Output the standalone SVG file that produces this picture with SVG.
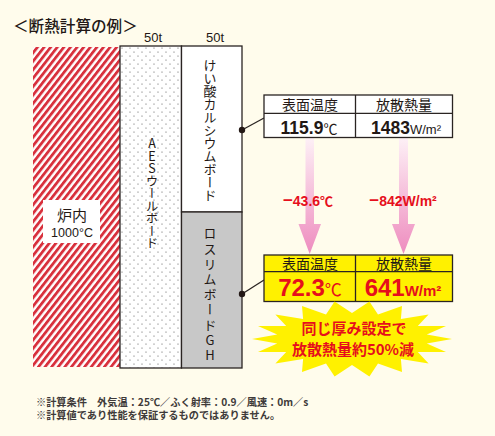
<svg xmlns="http://www.w3.org/2000/svg" width="495" height="436" viewBox="0 0 495 436">
<defs>
<pattern id="hatch" width="5.2" height="6" patternUnits="userSpaceOnUse" patternTransform="rotate(38)">
<rect width="5.2" height="6" fill="#ffffff"/>
<rect width="2.8" height="6" fill="#d8303c"/>
</pattern>
<pattern id="dots" width="8" height="8" patternUnits="userSpaceOnUse" x="120" y="46">
<rect width="8" height="8" fill="#ffffff"/>
<circle cx="2" cy="2" r="0.6" fill="#555"/>
<circle cx="6" cy="6" r="0.6" fill="#555"/>
</pattern>
<linearGradient id="pinkArrow" gradientUnits="userSpaceOnUse" x1="0" y1="138" x2="0" y2="253">
<stop offset="0" stop-color="#fdf0f6"/>
<stop offset="1" stop-color="#ee8dbf"/>
</linearGradient>
<style>
.jp{font-family:"Noto Sans CJK JP","Noto Sans",sans-serif;}
.num{font-family:"Liberation Sans","Noto Sans CJK JP",sans-serif;}
.ln{stroke:#2a2422;stroke-width:1.3;fill:none;}
.cell{stroke:#2a2422;stroke-width:1.3;}
.vt{font-family:"Noto Sans CJK JP",sans-serif;writing-mode:vertical-rl;text-orientation:upright;fill:#231815;}
.red{fill:#e60f1c;}
.hd{font-size:14px;fill:#231815;text-anchor:middle;}
.note{font-size:10.2px;font-weight:bold;fill:#3e3a39;}
</style>
</defs>
<rect width="495" height="436" fill="#fffcec"/>

<g id="title">
<text x="13" y="32" class="jp" font-size="15.6" font-weight="500" fill="#231815">＜断熱計算の例＞</text>
</g>

<g id="furnace">
<rect x="33" y="47" width="87" height="320" fill="url(#hatch)"/>
<rect x="43" y="200" width="57" height="43" fill="#ffffff"/>
<text x="72" y="221" class="jp" font-size="15" text-anchor="middle" fill="#231815">炉内</text>
<text x="72" y="237" class="num" font-size="12.5" text-anchor="middle" fill="#231815">1000°C</text>
</g>

<g id="aes-wool">
<rect x="120" y="46" width="61.5" height="322" fill="url(#dots)" class="cell"/>
<text x="153" y="42" class="num" font-size="13" text-anchor="middle" fill="#231815">50t</text>
<text x="152" y="137" class="vt" font-size="12.5">AESウールボード</text>
</g>

<g id="calcium-silicate">
<rect x="181.5" y="46" width="60.5" height="166" fill="#ffffff" class="cell"/>
<text x="215" y="42" class="num" font-size="13" text-anchor="middle" fill="#231815">50t</text>
<text x="210" y="59" class="vt" font-size="13">けい酸カルシウムボード</text>
</g>

<g id="roslim">
<rect x="181.5" y="212" width="60.5" height="156" fill="#c8c8c8" class="cell"/>
<text x="210" y="227" class="vt" font-size="13" letter-spacing="2.2">ロスリムボードGH</text>
</g>

<g id="connectors">
<line x1="242" y1="130" x2="264" y2="118" class="ln"/>
<circle cx="242" cy="130" r="3.2" fill="#231815"/>
<line x1="242" y1="294" x2="264" y2="280" class="ln"/>
<circle cx="242" cy="294" r="3.2" fill="#231815"/>
<polygon points="305.5,138 314,138 314,224 321,224 309.7,254 298.5,224 305.5,224" fill="url(#pinkArrow)"/>
<polygon points="399,138 408,138 408,224 415,224 403.5,254 392,224 399,224" fill="url(#pinkArrow)"/>
</g>

<g id="before-box">
<rect x="264" y="95" width="188.5" height="42.5" fill="#ffffff" class="cell"/>
<line x1="264" y1="113.3" x2="452.5" y2="113.3" class="ln"/>
<line x1="355.5" y1="95" x2="355.5" y2="137.5" class="ln"/>
<text x="310" y="110" class="jp hd">表面温度</text>
<text x="404" y="110" class="jp hd">放散熱量</text>
<text x="309" y="133.5" class="num" font-size="17.5" font-weight="bold" text-anchor="middle" fill="#231815">115.9<tspan font-size="14" class="jp" font-weight="normal">℃</tspan></text>
<text x="406" y="133.5" class="num" font-size="17.5" font-weight="bold" text-anchor="middle" fill="#231815">1483<tspan font-size="13" font-weight="normal">W/m²</tspan></text>
</g>

<g id="difference">
<text x="308" y="206" class="num red" font-size="14" font-weight="bold" text-anchor="middle"><tspan font-size="17">−</tspan>43.6<tspan class="jp" font-size="13">℃</tspan></text>
<text x="403" y="206" class="num red" font-size="14" font-weight="bold" text-anchor="middle"><tspan font-size="17">−</tspan>842W/m²</text>
</g>

<g id="after-box">
<rect x="264" y="255" width="188.5" height="46.5" fill="#fff100" class="cell"/>
<line x1="264" y1="271.7" x2="452.5" y2="271.7" class="ln"/>
<line x1="355.5" y1="255" x2="355.5" y2="301.5" class="ln"/>
<text x="310" y="268.5" class="jp hd">表面温度</text>
<text x="404" y="268.5" class="jp hd">放散熱量</text>
<text x="310" y="295.5" class="num red" font-size="24" font-weight="bold" text-anchor="middle">72.3<tspan class="jp" font-size="17" font-weight="normal">℃</tspan></text>
<text x="403" y="295.5" class="num red" font-size="24" font-weight="bold" text-anchor="middle">641<tspan font-size="15" font-weight="bold">W/m²</tspan></text>
</g>

<g id="burst">
<polygon fill="#fff100" points="452,339 426.8,343.5 446,352 417.8,352 428.6,363.4 400.9,358.9 402,371.9 378,363.4 369.4,376.4 352,365 334.6,376.4 326,363.4 302,371.9 303.1,358.9 275.4,363.4 286.2,352 258,352 277.2,343.5 252,339 277.2,334.5 258,326 286.2,326 275.4,314.6 303.1,319.1 302,306.1 326,314.6 334.6,301.6 352,313 369.4,301.6 378,314.6 402,306.1 400.9,319.1 428.6,314.6 417.8,326 446,326 426.8,334.5"/>
<text x="354" y="333.5" class="jp red" font-size="15" font-weight="bold" text-anchor="middle">同じ厚み設定で</text>
<text x="353" y="354.5" class="jp red" font-size="15" font-weight="bold" text-anchor="middle">放散熱量約50%減</text>
</g>

<g id="notes">
<text x="36" y="405.5" class="jp note">※計算条件　外気温：25℃／ふく射率：0.9／風速：0m／s</text>
<text x="36" y="419" class="jp note">※計算値であり性能を保証するものではありません。</text>
</g>
</svg>
